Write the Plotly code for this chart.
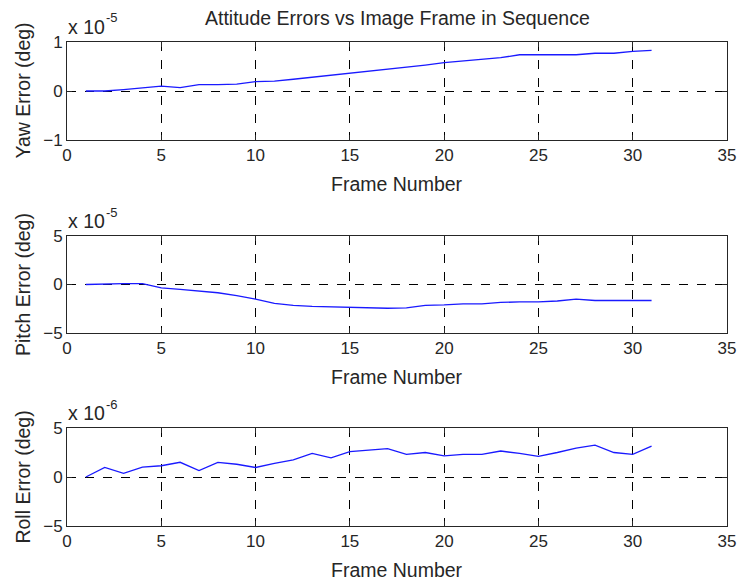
import plotly.graph_objects as go

# Frame numbers
frames = list(range(1, 32))

# Yaw error (units of 1e-5 deg)
yaw = [0, 0, 0.03, 0.06, 0.1, 0.07, 0.13, 0.13, 0.14, 0.19, 0.2, 0.24, 0.28, 0.33, 0.36,
       0.4, 0.44, 0.48, 0.53, 0.58, 0.61, 0.65, 0.68, 0.74, 0.74, 0.74, 0.74, 0.77, 0.77,
       0.81, 0.83]
# Pitch error (units of 1e-5 deg)
pitch = [0, 0.07, 0.1, 0.1, -0.35, -0.5, -0.65, -0.85, -1.15, -1.5, -1.95, -2.15, -2.25,
         -2.3, -2.4, -2.45, -2.45, -2.4, -2.15, -2.1, -2.0, -2.0, -1.85, -1.8, -1.8, -1.7,
         -1.5, -1.65, -1.65, -1.65, -1.65]
# Roll error (units of 1e-6 deg)
roll = [0, 0.97, 0.38, 1.0, 1.15, 1.5, 0.65, 1.5, 1.3, 0.97, 1.4, 1.75, 2.4, 1.95, 2.6,
        2.75, 2.9, 2.3, 2.5, 2.15, 2.3, 2.3, 2.65, 2.4, 2.1, 2.5, 2.95, 3.25, 2.5, 2.3, 3.15]

x_ticks = [0, 5, 10, 15, 20, 25, 30, 35]
panels = [
    dict(y=yaw, ylim=[-1, 1], yticks=[-1, 0, 1], label="Yaw Error (deg)", exp="-5"),
    dict(y=pitch, ylim=[-5, 5], yticks=[-5, 0, 5], label="Pitch Error (deg)", exp="-5"),
    dict(y=roll, ylim=[-5, 5], yticks=[-5, 0, 5], label="Roll Error (deg)", exp="-6"),
]

W, H = 747, 584
L, R, T, B = 67, 11, 42, 58
PW, PH = W - L - R, H - T - B
frame_px = [(42, 140), (236, 333), (428, 526)]


def py(p):
    return (H - B - p) / PH


def px(p):
    return (p - L) / PW


FONT = "Liberation Sans, Arial, sans-serif"
TXT = "#262626"
LBL = 19.5
fig = go.Figure()
annotations = []
for i, (pn, (top, bot)) in enumerate(zip(panels, frame_px)):
    n = "" if i == 0 else str(i + 1)
    fig.add_trace(go.Scatter(x=frames, y=pn["y"], mode="lines",
                             line=dict(color="#1a1aff", width=1.3),
                             xaxis="x" + n, yaxis="y" + n, showlegend=False))
    common = dict(showline=True, linecolor="#262626", linewidth=1, mirror="ticks",
                  ticks="inside", ticklen=5, tickcolor="#262626",
                  showgrid=True, gridcolor="black", griddash="dash", gridwidth=1,
                  zeroline=False, tickfont=dict(family=FONT, size=17, color=TXT))
    fig.layout["xaxis" + n] = dict(common, domain=[0, 1], range=[0, 35],
                                   tickvals=x_ticks, anchor="y" + n)
    fig.layout["yaxis" + n] = dict(common, domain=[py(bot), py(top)], range=pn["ylim"],
                                   tickvals=pn["yticks"], anchor="x" + n)
    annotations.append(dict(text=pn["label"], textangle=-90, xref="paper", yref="paper",
                            x=px(22), y=py((top + bot) / 2), xanchor="center",
                            yanchor="middle", showarrow=False,
                            font=dict(family=FONT, size=LBL, color=TXT)))
    annotations.append(dict(text="Frame Number", xref="paper", yref="paper",
                            x=0.5, y=py(bot + 44), xanchor="center", yanchor="middle",
                            showarrow=False, font=dict(family=FONT, size=LBL, color=TXT)))
    annotations.append(dict(text="x 10", xref="paper",
                            yref="paper", x=px(66), y=py(top - 15), xanchor="left",
                            yanchor="middle", showarrow=False,
                            font=dict(family=FONT, size=LBL, color=TXT)))
    annotations.append(dict(text=pn["exp"], xref="paper",
                            yref="paper", x=px(104), y=py(top - 24), xanchor="left",
                            yanchor="middle", showarrow=False,
                            font=dict(family=FONT, size=13, color=TXT)))

annotations.append(dict(text="Attitude Errors vs Image Frame in Sequence", xref="paper",
                        yref="paper", x=0.5, y=py(18), xanchor="center", yanchor="middle",
                        showarrow=False, font=dict(family=FONT, size=LBL, color=TXT)))

fig.update_layout(width=W, height=H, margin=dict(l=L, r=R, t=T, b=B, pad=0),
                  paper_bgcolor="white", plot_bgcolor="white",
                  annotations=annotations)
fig.write_html("out.html")
